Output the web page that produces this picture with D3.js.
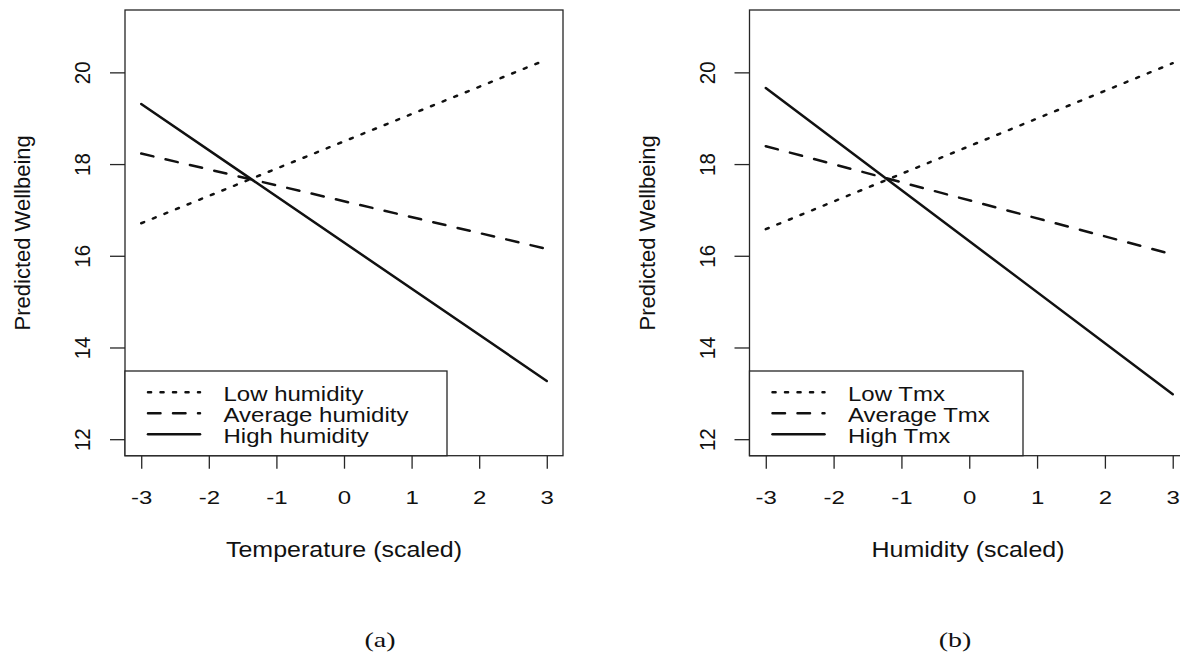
<!DOCTYPE html>
<html>
<head>
<meta charset="utf-8">
<script src="https://cdn.jsdelivr.net/npm/d3@7"></script>
<style>
  html, body { margin: 0; padding: 0; background: #fff; }
  svg { display: block; }
  text { fill: #111; font-family: "Liberation Sans", Arial, sans-serif; }
  .caption { font-family: "Liberation Serif", "Times New Roman", serif; }
</style>
</head>
<body>
<div id="chart"></div>
<script>
// values
const xTicks = [-3, -2, -1, 0, 1, 2, 3];
const yTicks = [12, 14, 16, 18, 20];
const xEnds = [-3, 3];

const tempLow = [16.71, 20.28];
const tempAvg = [18.23, 16.15];
const tempHigh = [19.31, 13.27];

const humLow = [16.58, 20.20];
const humAvg = [18.39, 16.03];
const humHigh = [19.66, 12.98];

const tempLegend = ['Low humidity', 'Average humidity', 'High humidity'];
const humLegend = ['Low Tmx', 'Average Tmx', 'High Tmx'];

const W = 1180, H = 653;
const TOP = 10, BOTTOM = 455.7;
const XLIM = [-3.24, 3.24], YLIM = [11.64, 21.36];
const DASH = { dot: '3.1,9.4', dash: '12.5,12.5', solid: null };
const INK = '#111', FRAME = '#262626';

const svg = d3.select('#chart').append('svg')
  .attr('width', W)
  .attr('height', H);

const panels = [
  {
    left: 125, right: 563, legendW: 322,
    xTitle: 'Temperature (scaled)', xTitleX: 344, caption: '(a)', captionX: 380,
    series: [tempLow, tempAvg, tempHigh], names: tempLegend
  },
  {
    left: 749.5, right: 1189, legendW: 273.5,
    xTitle: 'Humidity (scaled)', xTitleX: 968, caption: '(b)', captionX: 955,
    series: [humLow, humAvg, humHigh], names: humLegend
  }
];
const styles = ['dot', 'dash', 'solid'];

const drawPanel = p => {
  const x = d3.scaleLinear().domain(XLIM).range([p.left, p.right]);
  const y = d3.scaleLinear().domain(YLIM).range([BOTTOM, TOP]);
  const g = svg.append('g');

  // x axis
  const gx = g.append('g')
    .attr('transform', `translate(0,${BOTTOM})`)
    .call(d3.axisBottom(x).tickValues(xTicks).tickSize(13).tickSizeOuter(0).tickFormat(d => String(d)));
  gx.select('.domain').remove();
  gx.selectAll('line').attr('stroke', FRAME).attr('stroke-width', 1.3);
  gx.selectAll('text')
    .attr('y', null).attr('dy', null)
    .attr('font-size', 24)
    .attr('transform', 'translate(0,48.5) scale(1,0.76)')
    .style('fill', INK);

  // y axis
  const gy = g.append('g')
    .attr('transform', `translate(${p.left},0)`)
    .call(d3.axisLeft(y).tickValues(yTicks).tickSize(15).tickSizeOuter(0).tickFormat(d => String(d)));
  gy.select('.domain').remove();
  gy.selectAll('line').attr('stroke', FRAME).attr('stroke-width', 1.3);
  gy.selectAll('text')
    .attr('x', null).attr('dy', null)
    .attr('font-size', 22)
    .attr('text-anchor', 'middle')
    .attr('transform', 'translate(-35,0) rotate(-90) scale(0.93,1)')
    .style('fill', INK);

  // lines
  p.series.forEach((vals, i) => {
    const pts = xEnds.map((xv, j) => [xv, vals[j]]);
    g.append('path')
      .datum(pts)
      .attr('fill', 'none')
      .attr('stroke', INK)
      .attr('stroke-width', 2.5)
      .attr('stroke-linecap', 'round')
      .attr('stroke-dasharray', DASH[styles[i]])
      .attr('d', d3.line().x(d => x(d[0])).y(d => y(d[1])));
  });

  // frame
  g.append('rect')
    .attr('x', p.left).attr('y', TOP)
    .attr('width', p.right - p.left).attr('height', BOTTOM - TOP)
    .attr('fill', 'none').attr('stroke', FRAME).attr('stroke-width', 1.3);

  // legend
  const lg = g.append('g').attr('transform', `translate(${p.left},371)`);
  lg.append('rect')
    .attr('width', p.legendW).attr('height', BOTTOM - 371)
    .attr('fill', '#fff').attr('stroke', FRAME).attr('stroke-width', 1.3);
  const item = lg.selectAll('g.item')
    .data(p.names)
    .enter().append('g')
    .attr('class', 'item')
    .attr('transform', (d, i) => `translate(0,${21.3 + i * 21})`);
  item.append('line')
    .attr('x1', 23).attr('x2', 75)
    .attr('stroke', INK).attr('stroke-width', 2.5)
    .attr('stroke-linecap', 'round')
    .attr('stroke-dasharray', (d, i) => DASH[styles[i]]);
  item.append('text')
    .attr('font-size', 24)
    .attr('transform', 'translate(98.5,8.5) scale(1,0.85)')
    .text(d => d);

  // axis titles
  g.append('text')
    .attr('font-size', 25)
    .attr('text-anchor', 'middle')
    .attr('transform', `translate(${p.xTitleX},557) scale(1,0.88)`)
    .text(p.xTitle);
  g.append('text')
    .attr('font-size', 22)
    .attr('text-anchor', 'middle')
    .attr('transform', `translate(${p.left - 95},${(TOP + BOTTOM) / 2}) rotate(-90)`)
    .text('Predicted Wellbeing');

  // panel caption
  g.append('text')
    .attr('class', 'caption')
    .attr('font-size', 28)
    .attr('text-anchor', 'middle')
    .attr('transform', `translate(${p.captionX},647) scale(1,0.75)`)
    .text(p.caption);
};

panels.forEach(drawPanel);
</script>
</body>
</html>
